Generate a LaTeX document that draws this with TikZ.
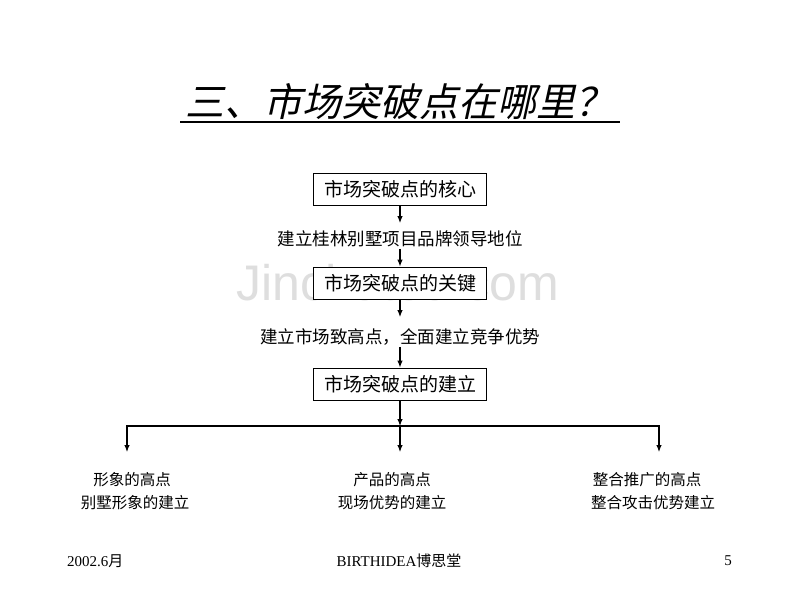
\documentclass[tikz,border=0pt]{standalone}
\usepackage{fontspec}
\setmainfont{Liberation Serif}
\newfontfamily\cjk{Noto Sans CJK SC}
\newfontfamily\cjkslant[FakeSlant=0.22]{Noto Sans CJK SC}
\newfontfamily\wmfont{Liberation Sans}
\usetikzlibrary{arrows.meta}
\begin{document}
\begin{tikzpicture}[x=1pt,y=-1pt,
  box/.style={draw,line width=0.9pt,fill=white,minimum width=173pt,minimum height=32pt,inner sep=0pt,font=\cjk\fontsize{19}{19}\selectfont},
  midtext/.style={inner sep=0pt,text height=14pt,text depth=3.5pt,font=\cjk\fontsize{17.5}{17.5}\selectfont},
  labtext/.style={inner sep=0pt,font=\cjk\fontsize{15.5}{15.5}\selectfont},
  foot/.style={inner sep=0pt,font=\fontsize{15}{15}\selectfont},
  arr/.style={line width=1.1pt,-{Latex[length=7pt,width=5.5pt]}},
  ln/.style={line width=1.1pt}]
\useasboundingbox (0,0) rectangle (800,600);
\fill[white] (0,0) rectangle (800,600);
% watermark
\node[anchor=base,inner sep=0pt,text=black!13,font=\wmfont\fontsize{50}{50}\selectfont] (wm) at (398,300) {Jinchutou.com};
% title
\node[inner sep=0pt,font=\cjkslant\fontsize{39}{39}\selectfont] (title) at (400,102) {三、市场突破点在哪里？};
\coordinate (ulL) at (180,122);
\coordinate (ulR) at (620,122);
\draw[line width=1.4pt] (ulL) -- (ulR);
% boxes and texts
\node[box] (b1) at (400,189) {市场突破点的核心};
\node[midtext] (t1) at (400,240) {建立桂林别墅项目品牌领导地位};
\node[box] (b2) at (400,283) {市场突破点的关键};
\node[midtext] (t2) at (400,338) {建立市场致高点，全面建立竞争优势};
\node[box] (b3) at (400,384) {市场突破点的建立};
\draw[arr,shorten >=8pt] (b1.south) -- (t1.north);
\draw[arr] (t1.south) -- (b2.north);
\draw[arr,shorten >=12pt] (b2.south) -- (t2.north);
\draw[arr] (t2.south) -- (b3.north);
% branch
\coordinate (hub) at (400,426);
\coordinate (la) at (127,452);
\coordinate (ca) at (400,452);
\coordinate (ra) at (659,452);
\draw[arr] (b3.south) -- (hub);
\draw[arr] (hub) -- (ca);
\draw[arr] (hub) -| (la);
\draw[arr] (hub) -| (ra);
% bottom labels
\node[labtext] (l1a) at (132,480) {形象的高点};
\node[labtext] (l1b) at (135,503) {别墅形象的建立};
\node[labtext] (l2a) at (392,480) {产品的高点};
\node[labtext] (l2b) at (392,503) {现场优势的建立};
\node[labtext] (l3a) at (647,480) {整合推广的高点};
\node[labtext] (l3b) at (653,503) {整合攻击优势建立};
% footer
\node[foot,anchor=west] (fdate) at (67,561) {2002.6{\cjk 月}};
\node[foot] (fmid) at (399,561) {BIRTHIDEA{\cjk 博思堂}};
\node[foot] (fpage) at (728,561) {5};
\end{tikzpicture}
\end{document}
